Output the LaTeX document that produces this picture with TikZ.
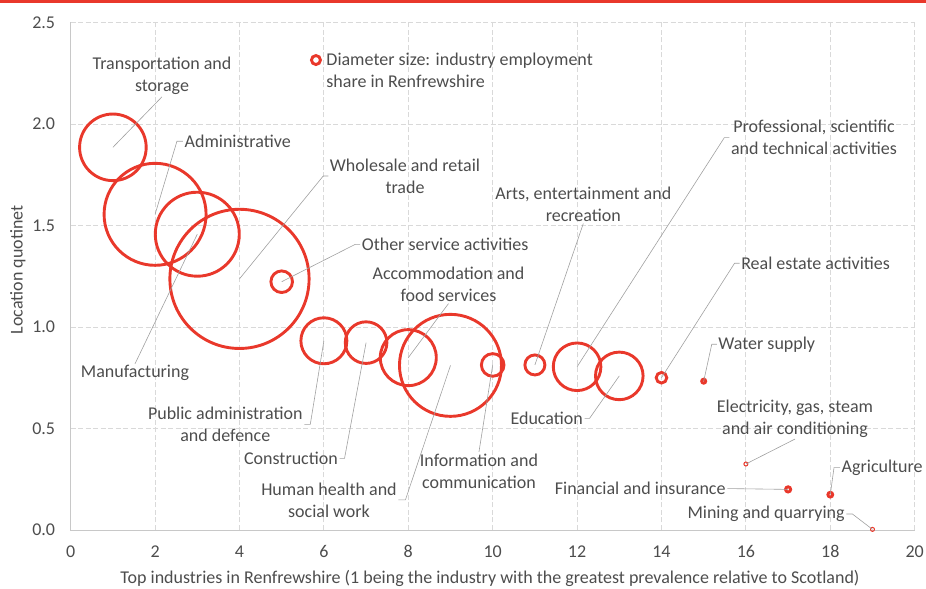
\documentclass[tikz,border=0pt]{standalone}
\usepackage{fontspec}
\setmainfont{Carlito}
\definecolor{bubred}{RGB}{233,56,43}
\definecolor{gridgrey}{RGB}{217,217,217}
\definecolor{axisgrey}{RGB}{200,200,200}
\definecolor{leadgrey}{RGB}{160,160,160}
\definecolor{txtgrey}{RGB}{77,77,77}
\tikzset{
  bubble/.style={draw=bubred, line width=2.9pt},
  smallbub/.style={draw=bubred, line width=1pt},
  lead/.style={draw=leadgrey, line width=0.6pt},
  lbl/.style={text=txtgrey, font=\fontsize{18}{22}\selectfont, align=center, inner sep=1.5pt},
  gridline/.style={draw=gridgrey, line width=0.9pt, dash pattern=on 5pt off 2.5pt},
}
\begin{document}
\begin{tikzpicture}[x=42.2pt, y=203pt]
\useasboundingbox (-1.675,-0.2906) rectangle (20.268,2.6108);
% Linea superior
\draw[bubred, line width=3pt] (-1.675,2.603) -- (20.268,2.603);
% Rejilla
\foreach \x in {2,4,...,20} {
    \draw[gridline] (\x,0) -- (\x,2.5);
}
\foreach \y in {0.5,1.0,1.5,2.0,2.5} {
    \draw[gridline] (0,\y) -- (20,\y);
}
% Ejes
\draw[axisgrey, line width=0.9pt] (0,2.5) -- (0,0) -- (20,0);
% Marcas
\foreach \x in {0,2,...,20} {
    \node[lbl] (tx\x) at (\x,-0.108) {\x};
}
\foreach \y/\t in {0/0.0,0.5/0.5,1/1.0,1.5/1.5,2/2.0,2.5/2.5} {
    \node[lbl, anchor=east] (ty\t) at (-0.33,\y) {\t};
}
% Titulos
\node[lbl] (xtitle) at (9.936,-0.241) {Top industries in Renfrewshire (1 being the industry with the greatest prevalence relative to Scotland)};
\node[lbl, rotate=90] (ytitle) at (-1.249,1.281) {Location quotinet};
% Burbujas
\foreach \n/\x/\y/\r in {1/1/1.885/33.3, 2/2/1.555/51, 3/3/1.457/42, 4/4/1.237/69.6,
    5/5/1.223/10.8, 6/6/0.932/23, 7/7/0.923/20.8, 8/8/0.849/28, 9/9/0.811/51,
    10/10/0.813/11.3, 11/11/0.813/10, 12/12/0.804/23.8, 13/13/0.759/23.8,
    14/14/0.75/5.3, 15/15/0.733/2, 17/17/0.2/2.6, 18/18/0.174/2.4} {
    \coordinate (b\n) at (\x,\y);
    \draw[bubble] (b\n) circle[radius=\r pt];
}
\coordinate (b16) at (16,0.325);
\draw[smallbub] (b16) circle[radius=2pt];
\coordinate (b19) at (19,0.003);
\draw[smallbub] (b19) circle[radius=2pt];
% Leyenda
\coordinate (leg) at (5.812,2.315);
\draw[bubble] (leg) circle[radius=4.5pt];
\node[lbl, align=left, anchor=west] (legtext) at (6.02,2.264) {Diameter size: industry employment\\share in Renfrewshire};
% Etiquetas
\node[lbl] (transport) at (2.164,2.235) {Transportation and\\storage};
\node[lbl, anchor=west] (admin) at (2.66,1.915) {Administrative};
\node[lbl] (wholesale) at (7.922,1.744) {Wholesale and retail\\trade};
\node[lbl, anchor=west] (other) at (6.86,1.407) {Other service activities};
\node[lbl] (accom) at (8.953,1.209) {Accommodation and\\food services};
\node[lbl] (manuf) at (1.524,0.772) {Manufacturing};
\node[lbl] (pubadm) at (3.664,0.520) {Public administration\\and defence};
\node[lbl] (constr) at (5.220,0.353) {Construction};
\node[lbl] (health) at (6.121,0.148) {Human health and\\social work};
\node[lbl] (info) at (9.675,0.291) {Information and\\communication};
\node[lbl] (arts) at (12.147,1.603) {Arts, entertainment and\\recreation};
\node[lbl] (prof) at (17.614,1.933) {Professional, scientific\\and technical activities};
\node[lbl] (edu) at (11.280,0.550) {Education};
\node[lbl, anchor=west] (realest) at (15.85,1.314) {Real estate activities};
\node[lbl, anchor=west] (water) at (15.31,0.915) {Water supply};
\node[lbl] (elec) at (17.164,0.549) {Electricity, gas, steam\\and air conditioning};
\node[lbl, anchor=west] (agri) at (18.23,0.307) {Agriculture};
\node[lbl, anchor=east] (fin) at (15.56,0.204) {Financial and insurance};
\node[lbl, anchor=east] (mining) at (18.38,0.079) {Mining and quarrying};
% Lineas guia
\draw[lead] (b1) -- (transport.south);
\draw[lead] (b2) -- ([xshift=-6pt]admin.west) -- (admin.west);
\draw[lead] (b3) -- (manuf.north);
\draw[lead] (b4) -- ([xshift=-5pt]wholesale.west) -- (wholesale.west);
\draw[lead] (b5) -- ([xshift=-5pt]other.west) -- (other.west);
\draw[lead] (b6) -- ([xshift=6pt]pubadm.east) -- (pubadm.east);
\draw[lead] (b7) -- ([xshift=5pt]constr.east) -- (constr.east);
\draw[lead] (b8) -- (accom.south);
\draw[lead] (b9) -- ([xshift=7pt]health.east) -- (health.east);
\draw[lead] (b10) -- (info.north);
\draw[lead] (b11) -- (arts.south);
\draw[lead] (b12) -- ([xshift=-5pt]prof.west) -- (prof.west);
\draw[lead] (b13) -- ([xshift=5pt]edu.east) -- (edu.east);
\draw[lead] (b14) -- ([xshift=-5pt]realest.west) -- (realest.west);
\draw[lead] (b15) -- ([xshift=-5pt]water.west) -- (water.west);
\draw[lead] (b16) -- (elec.south);
\draw[lead] (b17) -- (fin.east);
\draw[lead] (b18) -- ([xshift=-6pt]agri.west) -- (agri.west);
\draw[lead] (b19) -- ([xshift=6pt]mining.east) -- (mining.east);
\end{tikzpicture}
\end{document}
